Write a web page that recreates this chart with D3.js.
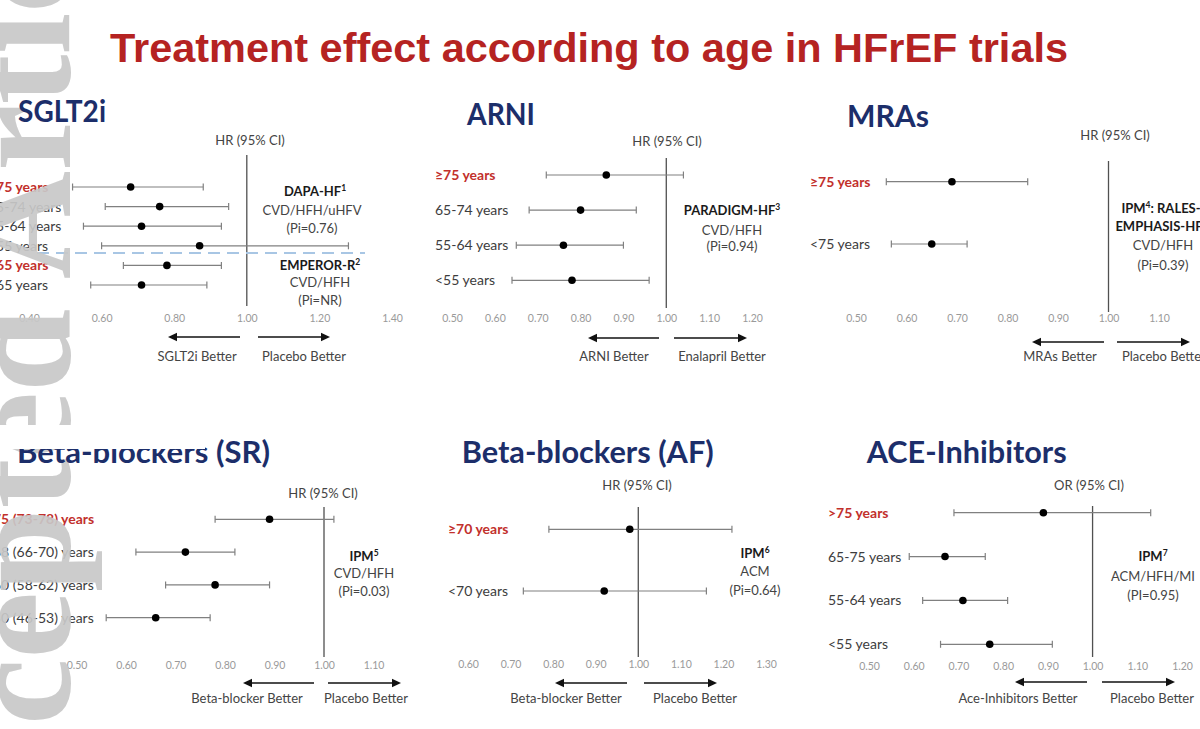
<!DOCTYPE html>
<html><head><meta charset="utf-8">
<script src="https://cdn.jsdelivr.net/npm/d3@7"></script>
<style>html,body{margin:0;padding:0;background:#fff;}svg{display:block;}</style>
</head><body>
<svg id="chart" width="1200" height="729"></svg>
<script>
// ---------------- DATA ----------------
const mainTitle = "Treatment effect according to age in HFrEF trials";

// SGLT2i (DAPA-HF rows 1-4, EMPEROR-Reduced rows 5-6)
const sgltLabels = ["≥75 years", "65-74 years", "55-64 years", "<55 years", "≥65 years", "<65 years"];
const sgltRed    = [true, false, false, false, true, false];
const sgltHR     = [0.68, 0.76, 0.71, 0.87, 0.78, 0.71];
const sgltLow    = [0.52, 0.61, 0.55, 0.60, 0.66, 0.57];
const sgltHigh   = [0.88, 0.95, 0.93, 1.28, 0.93, 0.89];
const sgltTicks  = [0.40, 0.60, 0.80, 1.00, 1.20, 1.40];

// ARNI (PARADIGM-HF)
const arniLabels = ["≥75 years", "65-74 years", "55-64 years", "<55 years"];
const arniRed    = [true, false, false, false];
const arniHR     = [0.86, 0.80, 0.76, 0.78];
const arniLow    = [0.72, 0.68, 0.65, 0.64];
const arniHigh   = [1.04, 0.93, 0.90, 0.96];
const arniTicks  = [0.50, 0.60, 0.70, 0.80, 0.90, 1.00, 1.10, 1.20];

// MRAs (IPM RALES-EMPHASIS-HF)
const mraLabels = ["≥75 years", "<75 years"];
const mraRed    = [true, false];
const mraHR     = [0.69, 0.65];
const mraLow    = [0.56, 0.57];
const mraHigh   = [0.84, 0.72];
const mraTicks  = [0.50, 0.60, 0.70, 0.80, 0.90, 1.00, 1.10];

// Beta-blockers (sinus rhythm)
const bbsrLabels = ["75 (73-78) years", "68 (66-70) years", "60 (58-62) years", "50 (46-53) years"];
const bbsrRed    = [true, false, false, false];
const bbsrHR     = [0.89, 0.72, 0.78, 0.66];
const bbsrLow    = [0.78, 0.62, 0.68, 0.56];
const bbsrHigh   = [1.02, 0.82, 0.89, 0.77];
const bbsrTicks  = [0.50, 0.60, 0.70, 0.80, 0.90, 1.00, 1.10];

// Beta-blockers (atrial fibrillation)
const bbafLabels = ["≥70 years", "<70 years"];
const bbafRed    = [true, false];
const bbafHR     = [0.98, 0.92];
const bbafLow    = [0.79, 0.73];
const bbafHigh   = [1.22, 1.16];
const bbafTicks  = [0.60, 0.70, 0.80, 0.90, 1.00, 1.10, 1.20, 1.30];

// ACE-Inhibitors
const aceLabels = [">75 years", "65-75 years", "55-64 years", "<55 years"];
const aceRed    = [true, false, false, false];
const aceHR     = [0.89, 0.67, 0.71, 0.77];
const aceLow    = [0.69, 0.59, 0.62, 0.66];
const aceHigh   = [1.13, 0.76, 0.81, 0.91];
const aceTicks  = [0.50, 0.60, 0.70, 0.80, 0.90, 1.00, 1.10, 1.20];

// ---------------- LAYOUT ----------------
const panels = [
  { title: "SGLT2i", tx: 18, ty: 122, tw: 88,
    labels: sgltLabels, red: sgltRed, hr: sgltHR, lo: sgltLow, hi: sgltHigh, ticks: sgltTicks,
    xr: [29, 392], yr: [187, 285], labelX: -12, vline: [155, 306],
    head: "HR (95% CI)", headX: 250, headY: 145, tickY: 324,
    arrowY: 337, la: [240, 168], ra: [258, 330], betterY: 361,
    leftTxt: "SGLT2i Better", leftX: 197, rightTxt: "Placebo Better", rightX: 304, rightAnchor: "middle",
    notes: [
      { parts: [["DAPA-HF", "1"]], bold: true, x: 315, y: 196 },
      { parts: [["CVD/HFH/uHFV", ""]], x: 312, y: 215 },
      { parts: [["(Pi=0.76)", ""]], x: 312, y: 233 },
      { parts: [["EMPEROR-R", "2"]], bold: true, x: 320, y: 270 },
      { parts: [["CVD/HFH", ""]], x: 320, y: 287 },
      { parts: [["(Pi=NR)", ""]], x: 320, y: 305 }
    ],
    dash: { x1: 37, x2: 365, y: 253 } },
  { title: "ARNI", tx: 467, ty: 125, tw: 68,
    labels: arniLabels, red: arniRed, hr: arniHR, lo: arniLow, hi: arniHigh, ticks: arniTicks,
    xr: [452, 752], yr: [175, 280.3], labelX: 435, vline: [158, 308],
    head: "HR (95% CI)", headX: 667, headY: 146, tickY: 324,
    arrowY: 338, la: [659, 588], ra: [674, 747], betterY: 361,
    leftTxt: "ARNI Better", leftX: 614, rightTxt: "Enalapril Better", rightX: 722, rightAnchor: "middle",
    notes: [
      { parts: [["PARADIGM-HF", "3"]], bold: true, x: 732, y: 215 },
      { parts: [["CVD/HFH", ""]], x: 732, y: 234.5 },
      { parts: [["(Pi=0.94)", ""]], x: 732, y: 251 }
    ] },
  { title: "MRAs", tx: 847, ty: 127, tw: 82,
    labels: mraLabels, red: mraRed, hr: mraHR, lo: mraLow, hi: mraHigh, ticks: mraTicks,
    xr: [856, 1159], yr: [181.7, 244], labelX: 810, vline: [161, 312],
    head: "HR (95% CI)", headX: 1115, headY: 139.5, tickY: 324,
    arrowY: 342, la: [1104, 1032], ra: [1117, 1190], betterY: 361,
    leftTxt: "MRAs Better", leftX: 1060, rightTxt: "Placebo Better", rightX: 1122, rightAnchor: "start",
    notes: [
      { parts: [["IPM", "4"], [": RALES-", ""]], bold: true, x: 1161, y: 212.8 },
      { parts: [["EMPHASIS-HF", ""]], bold: true, x: 1159, y: 230.5 },
      { parts: [["CVD/HFH", ""]], x: 1163, y: 249.5 },
      { parts: [["(Pi=0.39)", ""]], x: 1163, y: 269.5 }
    ] },
  { title: "Beta-blockers (SR)", tx: 17, ty: 463, tw: 253,
    labels: bbsrLabels, red: bbsrRed, hr: bbsrHR, lo: bbsrLow, hi: bbsrHigh, ticks: bbsrTicks,
    xr: [76.5, 373.5], yr: [519.3, 617.7], labelX: -7, vline: [507, 657],
    head: "HR (95% CI)", headX: 323, headY: 497.5, tickY: 671,
    arrowY: 683, la: [314, 243], ra: [328, 401], betterY: 702.5,
    leftTxt: "Beta-blocker Better", leftX: 247, rightTxt: "Placebo Better", rightX: 366, rightAnchor: "middle",
    notes: [
      { parts: [["IPM", "5"]], bold: true, x: 364, y: 560.5 },
      { parts: [["CVD/HFH", ""]], x: 364, y: 578 },
      { parts: [["(Pi=0.03)", ""]], x: 364, y: 596 }
    ] },
  { title: "Beta-blockers (AF)", tx: 461.7, ty: 463, tw: 252,
    labels: bbafLabels, red: bbafRed, hr: bbafHR, lo: bbafLow, hi: bbafHigh, ticks: bbafTicks,
    xr: [468, 766], yr: [529.3, 591], labelX: 448, vline: [507, 657],
    head: "HR (95% CI)", headX: 637, headY: 489.5, tickY: 670,
    arrowY: 683, la: [627, 555], ra: [644, 717], betterY: 702.5,
    leftTxt: "Beta-blocker Better", leftX: 566, rightTxt: "Placebo Better", rightX: 695, rightAnchor: "middle",
    notes: [
      { parts: [["IPM", "6"]], bold: true, x: 755, y: 557.8 },
      { parts: [["ACM", ""]], x: 755, y: 576 },
      { parts: [["(Pi=0.64)", ""]], x: 755, y: 595 }
    ] },
  { title: "ACE-Inhibitors", tx: 866.7, ty: 463, tw: 200,
    labels: aceLabels, red: aceRed, hr: aceHR, lo: aceLow, hi: aceHigh, ticks: aceTicks,
    xr: [869, 1182], yr: [512.7, 644.3], labelX: 828, vline: [506, 657],
    head: "OR (95% CI)", headX: 1089, headY: 489.5, tickY: 672,
    arrowY: 682, la: [1087, 1015], ra: [1102, 1175], betterY: 702.5,
    leftTxt: "Ace-Inhibitors Better", leftX: 1018, rightTxt: "Placebo Better", rightX: 1152, rightAnchor: "middle",
    notes: [
      { parts: [["IPM", "7"]], bold: true, x: 1153, y: 561 },
      { parts: [["ACM/HFH/MI", ""]], x: 1153, y: 580.5 },
      { parts: [["(PI=0.95)", ""]], x: 1153, y: 600 }
    ] }
];

// ---------------- DRAW ----------------
const FONT = "Lato, 'Open Sans', 'DejaVu Sans', sans-serif";
const svg = d3.select("#chart");
svg.append("rect").attr("width", 1200).attr("height", 729).attr("fill", "#fff");

const bodyLayer = svg.append("g");   // chart content (under the watermark)
const wmLayer = svg.append("g");     // watermark layer
const overLayer = svg.append("g");   // headings drawn over the watermark

overLayer.append("text")
  .attr("x", 110).attr("y", 62)
  .attr("textLength", 958).attr("lengthAdjust", "spacingAndGlyphs")
  .attr("font-family", "'Liberation Sans Narrow', 'Liberation Sans', Arial, sans-serif")
  .attr("font-weight", "bold").attr("font-size", 40)
  .attr("fill", "#B52322")
  .text(mainTitle);

function arrow(g, x1, x2, y) {
  const dir = Math.sign(x2 - x1);
  const headL = 9, headW = 4.2;
  g.append("line").attr("x1", x1).attr("x2", x2 - dir * headL + dir * 1).attr("y1", y).attr("y2", y)
    .attr("stroke", "#111").attr("stroke-width", 1.6);
  g.append("path")
    .attr("d", `M${x2},${y} L${x2 - dir * headL},${y - headW} L${x2 - dir * headL},${y + headW} Z`)
    .attr("fill", "#111");
}

panels.forEach(p => {
  const g = bodyLayer.append("g");
  const x = d3.scaleLinear().domain([p.ticks[0], p.ticks[p.ticks.length - 1]]).range(p.xr);
  const y = d3.scalePoint().domain(d3.range(p.labels.length)).range(p.yr);

  // panel title (over watermark)
  overLayer.append("text").attr("x", p.tx).attr("y", p.ty)
    .attr("textLength", p.tw).attr("lengthAdjust", "spacingAndGlyphs")
    .attr("font-family", FONT).attr("font-weight", "bold").attr("font-size", 31)
    .attr("fill", "#1C2E6A").text(p.title);

  // header
  g.append("text").attr("x", p.headX).attr("y", p.headY).attr("text-anchor", "middle")
    .attr("font-family", FONT).attr("font-size", 13).attr("fill", "#444").text(p.head);

  // axis tick labels
  const axis = d3.axisBottom(x).tickValues(p.ticks).tickFormat(d3.format(".2f")).tickSize(0).tickPadding(0);
  const ag = g.append("g").attr("transform", `translate(0,${p.tickY - 9})`).call(axis);
  ag.select(".domain").remove();
  ag.selectAll("text").attr("font-family", FONT).attr("font-size", 10.5).attr("fill", "#9a9a9a");

  // reference line at 1
  g.append("line").attr("x1", x(1)).attr("x2", x(1)).attr("y1", p.vline[0]).attr("y2", p.vline[1])
    .attr("stroke", "#505050").attr("stroke-width", 1.3);

  // dashed separator
  if (p.dash) {
    g.append("line").attr("x1", p.dash.x1).attr("x2", p.dash.x2).attr("y1", p.dash.y).attr("y2", p.dash.y)
      .attr("stroke", "#A8C6E4").attr("stroke-width", 2).attr("stroke-dasharray", "12 7");
  }

  const idx = d3.range(p.labels.length);
  g.selectAll(".ci").data(idx).join("line")
    .attr("x1", i => x(p.lo[i])).attr("x2", i => x(p.hi[i]))
    .attr("y1", i => y(i)).attr("y2", i => y(i))
    .attr("stroke", "#808080").attr("stroke-width", 1.2);
  ["lo", "hi"].forEach(k => {
    g.selectAll(".cap" + k).data(idx).join("line")
      .attr("x1", i => x(p[k][i])).attr("x2", i => x(p[k][i]))
      .attr("y1", i => y(i) - 3.5).attr("y2", i => y(i) + 3.5)
      .attr("stroke", "#808080").attr("stroke-width", 1.2);
  });
  g.selectAll(".pt").data(idx).join("circle")
    .attr("cx", i => x(p.hr[i])).attr("cy", i => y(i)).attr("r", 3.8).attr("fill", "#000");

  // row labels
  g.selectAll(".lbl").data(idx).join("text")
    .attr("x", p.labelX).attr("y", i => y(i) + 5)
    .attr("font-family", FONT).attr("font-size", 14)
    .attr("font-weight", i => p.red[i] ? "bold" : "normal")
    .attr("fill", i => p.red[i] ? "#C2302C" : "#3d3d3d")
    .text(i => p.labels[i]);

  // notes (trial name, outcome, p-interaction)
  p.notes.forEach(n => {
    const t = g.append("text").attr("x", n.x).attr("y", n.y).attr("text-anchor", "middle")
      .attr("font-family", FONT).attr("font-size", 13)
      .attr("font-weight", n.bold ? "bold" : "normal")
      .attr("fill", n.bold ? "#1a1a1a" : "#444");
    let shift = 0;
    n.parts.forEach(([main, sup]) => {
      t.append("tspan").attr("dy", shift).text(main);
      shift = 0;
      if (sup) {
        t.append("tspan").attr("dy", -5).attr("font-size", 8.5).text(sup);
        shift = 5;
      }
    });
  });

  // arrows & direction labels
  arrow(g, p.la[0], p.la[1], p.arrowY);
  arrow(g, p.ra[0], p.ra[1], p.arrowY);
  g.append("text").attr("x", p.leftX).attr("y", p.betterY).attr("text-anchor", "middle")
    .attr("font-family", FONT).attr("font-size", 13).attr("fill", "#444").text(p.leftTxt);
  g.append("text").attr("x", p.rightX).attr("y", p.betterY).attr("text-anchor", p.rightAnchor)
    .attr("font-family", FONT).attr("font-size", 13).attr("fill", "#444").text(p.rightTxt);
});

// watermark (vertical, partly outside the left edge)
wmLayer.append("text")
  .attr("transform", "translate(70,900) rotate(-90)")
  .attr("font-family", "'Liberation Serif', 'DejaVu Serif', serif")
  .attr("font-weight", "bold")
  .attr("font-size", 150)
  .attr("fill", "#c8c8c8").attr("fill-opacity", 0.92)
  .text("Accepted Article");

// crop band over the top of the lower-left panel title
overLayer.append("rect").attr("x", 0).attr("y", 425).attr("width", 205).attr("height", 24).attr("fill", "#fff");
</script>
</body></html>
